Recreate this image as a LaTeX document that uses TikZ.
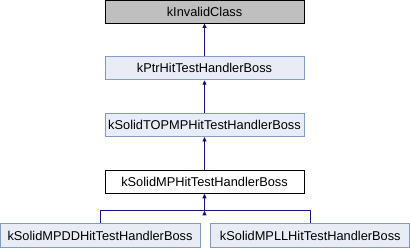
\documentclass[tikz,border=0pt]{standalone}
\usepackage{fontspec}
\setmainfont{Liberation Sans}
\usepackage{tikz}
\usetikzlibrary{positioning, arrows.meta}

\definecolor{edgeblue}{RGB}{20,20,135}
\definecolor{boxfill}{RGB}{232,236,245}
\definecolor{boxline}{RGB}{132,155,201}

\begin{document}
\begin{tikzpicture}[x=1pt, y=1pt, node distance=33pt, semithick,
          >={Triangle[length=4.5pt,width=4pt]},
          every node/.style={font=\fontsize{12.8}{15}\selectfont, inner sep=0pt,
                             minimum width=199pt, minimum height=23pt},
          base/.style={draw=boxline, fill=boxfill, line width=0.8pt},
          root/.style={draw=black, fill=black!25, line width=0.8pt},
          current/.style={draw=black, fill=white, line width=0.8pt},
          link/.style={draw=edgeblue, line width=0.9pt}]
        \useasboundingbox (0,0) rectangle (410,248);
        \node[root] (invalid) at (204.5,236.5) {kInvalidClass};
        \node[base] (ptr) [below=of invalid] {kPtrHitTestHandlerBoss};
        \node[base] (topmp) [below=of ptr] {kSolidTOPMPHitTestHandlerBoss};
        \node[current] (mp) [below=of topmp] {kSolidMPHitTestHandlerBoss};
        \node[base, minimum width=200pt, minimum height=24pt] (pdd) at (100,12.5) {kSolidMPDDHitTestHandlerBoss};
        \node[base, minimum height=24pt] (pll) [right=10pt of pdd] {kSolidMPLLHitTestHandlerBoss};
        \coordinate (split) at ([yshift=-17pt]mp.south);
        \path[link, ->]
        (ptr) edge (invalid)
        (topmp) edge (ptr)
        (mp) edge (topmp)
        (split) edge (mp);
        \draw[link] (pdd.north) |- (split) -| (pll.north);
      \end{tikzpicture}
\end{document}
